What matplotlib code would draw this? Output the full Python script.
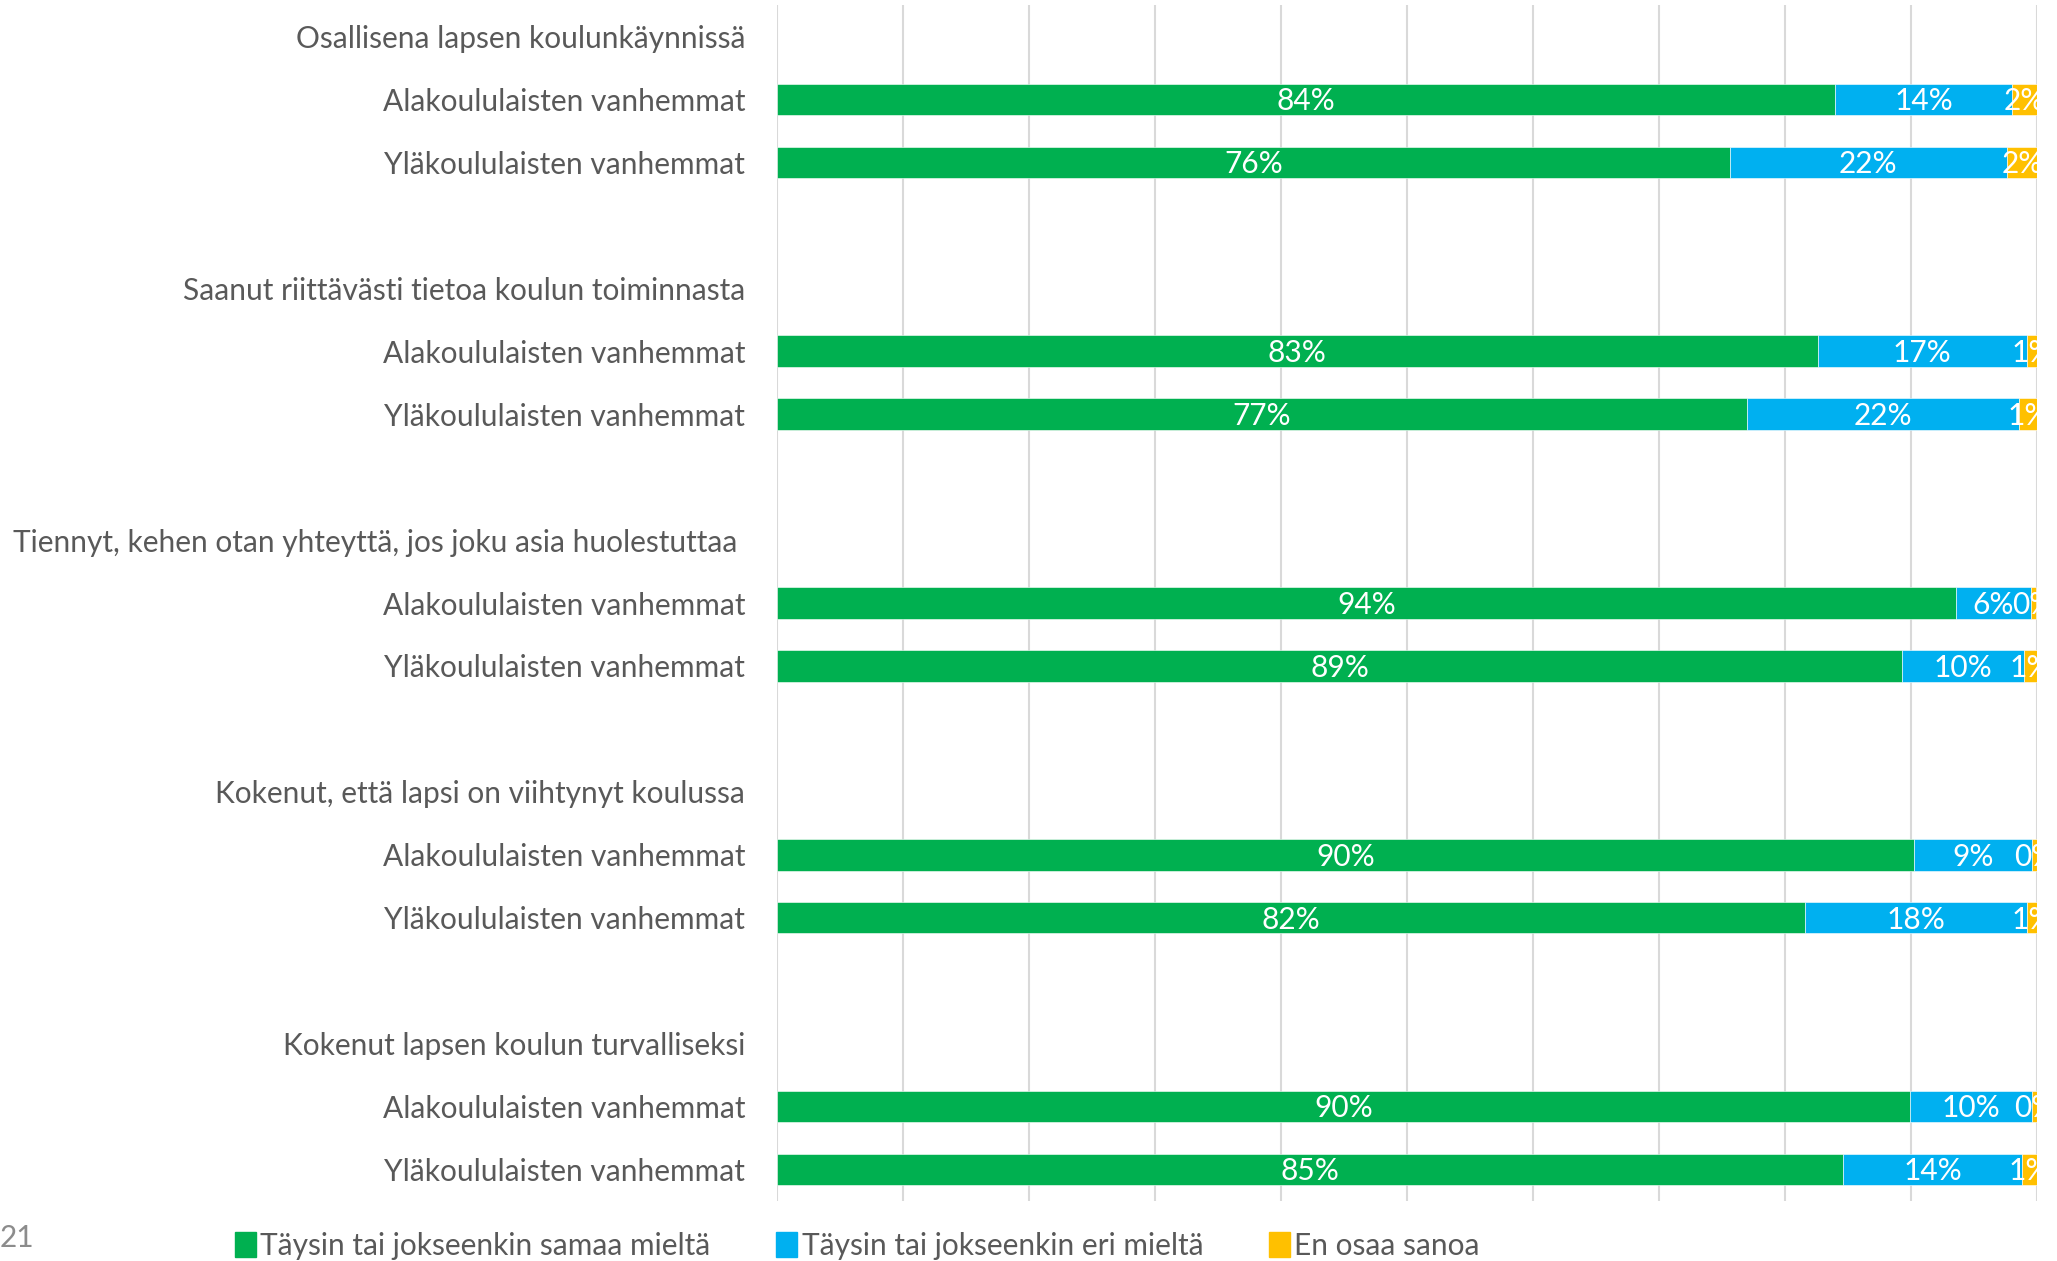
import matplotlib
matplotlib.use("Agg")
import matplotlib.pyplot as plt
import numpy as np

# section titles and groups
sections = [
    "Osallisena lapsen koulunkäynnissä",
    "Saanut riittävästi tietoa koulun toiminnasta",
    "Tiennyt, kehen otan yhteyttä, jos joku asia huolestuttaa ",
    "Kokenut, että lapsi on viihtynyt koulussa",
    "Kokenut lapsen koulun turvalliseksi",
]
groups = ["Alakoululaisten vanhemmat", "Yläkoululaisten vanhemmat"]

# shares (%) per section: [ala, ylä]
samaa = [[84.0, 75.6], [82.6, 77.0], [93.6, 89.3], [90.2, 81.6], [89.9, 84.6]]
eri = [[14.0, 22.0], [16.6, 21.6], [5.9, 9.7], [9.4, 17.6], [9.7, 14.2]]
eos = [[2.0, 2.4], [0.8, 1.4], [0.4, 1.0], [0.4, 0.8], [0.4, 1.2]]

series_names = ["Täysin tai jokseenkin samaa mieltä", "Täysin tai jokseenkin eri mieltä", "En osaa sanoa"]
colors = ["#00B050", "#00B0F0", "#FFC000"]

plt.rcParams["font.family"] = ["Lato", "DejaVu Sans"]
FS = 21.5

fig = plt.figure(figsize=(20.57, 12.61), dpi=100)
ax = fig.add_axes([777 / 2057, 1 - 1201 / 1261, 1260 / 2057, 1196 / 1261])

# build the category slots: title, ala, ylä, blank
labels = []
rows = []  # (slot index, section, group)
slot = 0
for s, title in enumerate(sections):
    labels.append(title)
    slot += 1
    for g, name in enumerate(groups):
        labels.append(name)
        rows.append((slot, s, g))
        slot += 1
    if s < len(sections) - 1:
        labels.append("")
        slot += 1

n_slots = len(labels)
for pos, s, g in rows:
    vals = [samaa[s][g], eri[s][g], eos[s][g]]
    left = 0.0
    for v, c in zip(vals, colors):
        ax.barh(pos, v, left=left, height=0.5, color=c, edgecolor="white", linewidth=0.4, zorder=3)
        ax.text(left + v / 2, pos + 0.03, f"{v:.0f}%", ha="center", va="center", color="white",
                fontsize=FS, clip_on=True, zorder=4)
        left += v

ax.set_xlim(0, 100)
ax.set_ylim(n_slots - 0.5, -0.5)
ax.set_yticks(range(n_slots))
ax.set_yticklabels(labels, fontsize=FS, color="#595959")
ax.tick_params(axis="y", length=0, pad=23)
ax.set_xticks(np.arange(0, 101, 10))
ax.tick_params(axis="x", length=0, labelbottom=False)
ax.grid(axis="x", color="#d9d9d9", linewidth=1.5, zorder=0)
for sp in ax.spines.values():
    sp.set_visible(False)

handles = [plt.Rectangle((0, 0), 1, 1, color=c) for c in colors]
fig.legend(handles, series_names, loc="center left", bbox_to_anchor=(235 / 2057, 1 - 1246 / 1261), ncol=3,
           frameon=False, fontsize=FS, handlelength=0.7, handleheight=0.9, handletextpad=0.15,
           columnspacing=2.2, labelcolor="#595959", borderpad=0, borderaxespad=0)

fig.text(0, 1 - 1238 / 1261, "21", fontsize=FS, color="#8c8c8c", ha="left", va="center")

plt.savefig("out.png", dpi=100)
plt.close(fig)
